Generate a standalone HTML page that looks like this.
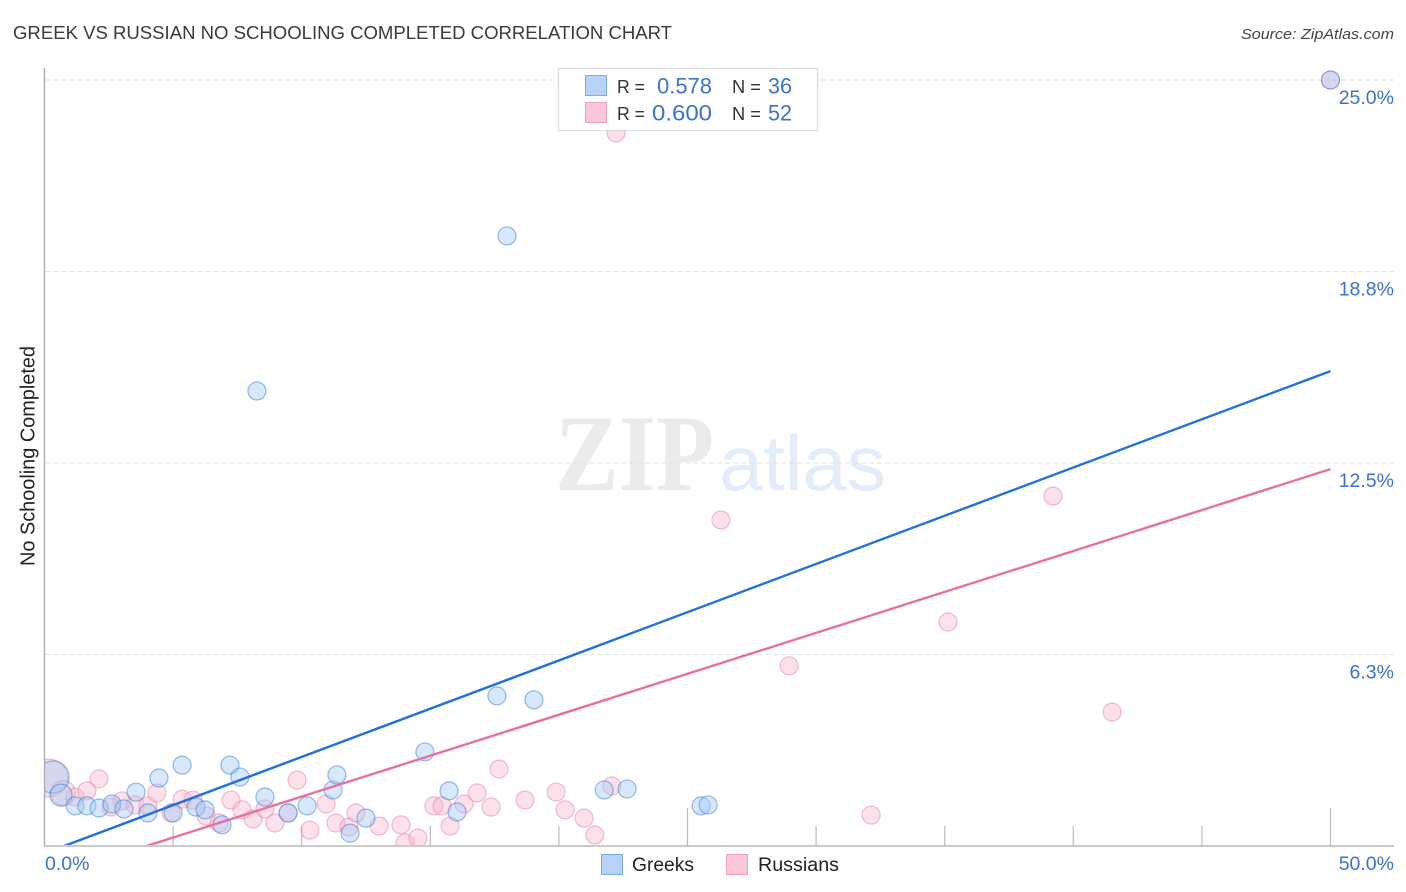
<!DOCTYPE html>
<html>
<head>
<meta charset="utf-8">
<title>Greek vs Russian No Schooling Completed Correlation Chart</title>
<style>
html,body{margin:0;padding:0;background:#fff;}
svg{display:block;}
text{font-family:"Liberation Sans",sans-serif;}
</style>
</head>
<body>
<svg id="chart" xmlns="http://www.w3.org/2000/svg" width="1406" height="892" viewBox="0 0 1406 892">
  <defs>
    <clipPath id="plot-clip"><rect x="45" y="60" width="1349" height="785"/></clipPath>
  </defs>
  <rect x="0" y="0" width="1406" height="892" fill="#ffffff"/>
  <text x="13" y="39" font-size="18.5" fill="#3a3a3a" textLength="659" lengthAdjust="spacingAndGlyphs">GREEK VS RUSSIAN NO SCHOOLING COMPLETED CORRELATION CHART</text>
  <text x="1241" y="39" font-size="15" font-style="italic" fill="#444444" textLength="153" lengthAdjust="spacingAndGlyphs">Source: ZipAtlas.com</text>
  <text x="555" y="490" font-size="109" font-weight="bold" style="font-family:'Liberation Serif',serif" fill="#ebebeb" textLength="159" lengthAdjust="spacingAndGlyphs">ZIP</text>
  <text x="719" y="490" font-size="78" fill="#e3ecf9" textLength="167" lengthAdjust="spacingAndGlyphs">atlas</text>
  <g id="grid"></g>
  <g id="axes"></g>
  <g id="points-russians" clip-path="url(#plot-clip)"></g>
  <g id="points-greeks" clip-path="url(#plot-clip)"></g>
  <g id="trends" clip-path="url(#plot-clip)"></g>
  <text transform="translate(34.5,456) rotate(-90)" text-anchor="middle" font-size="20" fill="#222222" textLength="220" lengthAdjust="spacingAndGlyphs">No Schooling Completed</text>

  <g>
    <rect x="558.5" y="68.5" width="259" height="62" fill="#ffffff" stroke="#dddddd" stroke-width="1.3"/>
    <rect x="585.5" y="75.5" width="21" height="20" fill="#b6d3f7" stroke="#7eaae6" stroke-width="1"/>
    <rect x="585.5" y="102.5" width="21" height="20" fill="#fbc8d9" stroke="#f0a0bd" stroke-width="1"/>
    <text x="617" y="93" font-size="18.5" fill="#333333" textLength="28" lengthAdjust="spacingAndGlyphs">R =</text>
    <text x="657" y="93.5" font-size="22" fill="#3b72cf" textLength="55" lengthAdjust="spacingAndGlyphs">0.578</text>
    <text x="732" y="93" font-size="18.5" fill="#333333" textLength="29" lengthAdjust="spacingAndGlyphs">N =</text>
    <text x="768" y="93.5" font-size="22" fill="#3b72cf" textLength="24" lengthAdjust="spacingAndGlyphs">36</text>
    <text x="617" y="120" font-size="18.5" fill="#333333" textLength="28" lengthAdjust="spacingAndGlyphs">R =</text>
    <text x="652" y="120.5" font-size="22" fill="#3b72cf" textLength="60" lengthAdjust="spacingAndGlyphs">0.600</text>
    <text x="732" y="120" font-size="18.5" fill="#333333" textLength="29" lengthAdjust="spacingAndGlyphs">N =</text>
    <text x="768" y="120.5" font-size="22" fill="#3b72cf" textLength="24" lengthAdjust="spacingAndGlyphs">52</text>
  </g>

  <g>
    <rect x="601.5" y="854.5" width="21" height="20" fill="#b6d3f7" stroke="#7eaae6" stroke-width="1"/>
    <text x="632" y="871" font-size="19" fill="#222222" textLength="62" lengthAdjust="spacingAndGlyphs">Greeks</text>
    <rect x="726.5" y="854.5" width="21" height="20" fill="#fbc8d9" stroke="#f0a0bd" stroke-width="1"/>
    <text x="758" y="871" font-size="19" fill="#222222" textLength="81" lengthAdjust="spacingAndGlyphs">Russians</text>
  </g>
</svg>
<script>
const xTickValues = [5, 10, 15, 20, 25, 30, 35, 40, 45, 50];
const xTallTicks = [25, 50];
const xLabelValues = [0, 50];
const xLabelText = ['0.0%', '50.0%'];
const yTickValues = [6.25, 12.5, 18.75, 25];
const yLabelText = ['6.3%', '12.5%', '18.8%', '25.0%'];

const greekX = [0.33,0.64,1.19,1.65,2.12,2.62,3.09,3.56,4.02,4.45,5.35,5.00,5.89,6.24,6.90,7.21,7.60,8.57,9.47,10.21,11.22,11.37,11.88,12.50,14.79,15.73,16.04,21.76,22.65,17.98,8.26,17.59,19.03,25.53,25.80,50.0];
const greekY = [2.25,1.66,1.31,1.31,1.24,1.37,1.21,1.76,1.08,2.22,2.64,1.08,1.27,1.18,0.69,2.64,2.25,1.60,1.08,1.31,1.83,2.32,0.42,0.91,3.07,1.80,1.11,1.83,1.86,19.91,14.85,4.90,4.77,1.31,1.34,25.0];
const greekWeight = [3.2,1.5,1,1,1,1,1,1,1,1,1,1,1,1,1,1,1,1,1,1,1,1,1,1,1,1,1,1,1,1,1,1,1,1,1,1];

const russianX = [0.17,0.72,1.19,1.65,2.12,3.01,3.52,2.59,4.02,4.37,4.92,5.35,5.77,6.28,6.79,7.25,7.68,8.11,8.57,8.96,9.47,9.82,10.32,10.95,11.33,11.84,12.11,13.01,13.86,14.02,14.52,15.14,15.46,15.77,16.31,16.82,17.36,17.67,18.68,19.89,20.24,20.98,21.40,22.06,22.22,26.30,39.21,35.13,28.95,41.51,32.14,50.0];
const russianY = [2.22,1.73,1.60,1.80,2.19,1.47,1.34,1.27,1.31,1.73,1.08,1.53,1.50,0.98,0.75,1.50,1.18,0.88,1.21,0.75,1.08,2.15,0.52,1.37,0.75,0.62,1.08,0.65,0.69,0.10,0.26,1.31,1.31,0.65,1.37,1.73,1.27,2.51,1.50,1.76,1.18,0.91,0.36,1.96,23.27,10.64,11.42,7.31,5.88,4.37,1.01,25.0];
const russianWeight = [4.4,1.9,1,1,1,1,1,1,1,1,1,1,1,1,1,1,1,1,1,1,1,1,1,1,1,1,1,1,1,1,1,1,1,1,1,1,1,1,1,1,1,1,1,1,1,1,1,1,1,1,1,1];

const greekTrendX = [0, 50];
const greekTrendY = [-0.24, 15.5];
const russianTrendX = [0, 50];
const russianTrendY = [-1.06, 12.3];

const SVG_NS = 'http://www.w3.org/2000/svg';
function xScale(v) { return 44.5 + v * 25.72; }
function yScale(v) { return 846 - v * 30.64; }
function rScale(w) { return 9 * Math.sqrt(w); }
function make(parentId, tag, attrs) {
  const el = document.createElementNS(SVG_NS, tag);
  for (const k in attrs) el.setAttribute(k, attrs[k]);
  document.getElementById(parentId).appendChild(el);
  return el;
}

yTickValues.forEach(function (v, i) {
  const line = make('grid', 'line', { x1: 45, x2: 1394, y1: yScale(v), y2: yScale(v), stroke: '#e2e2e2', 'stroke-width': 1, 'stroke-dasharray': '5 3' });
  
  
  const label = make('axes', 'text', { x: 1394, y: yScale(v) + 24, 'text-anchor': 'end', 'font-size': 19.5, fill: '#3b72cf' });
  
  
  label.textContent = yLabelText[i];
});

const yAxis = make('axes', 'line', { x1: 44.5, x2: 44.5, y1: 68, y2: 846, stroke: '#aaaaaa', 'stroke-width': 1.3 });


const xAxis = make('axes', 'line', { x1: 44, x2: 1394, y1: 846, y2: 846, stroke: '#aaaaaa', 'stroke-width': 1.3 });



xTickValues.forEach(function (v) {
  const top = xTallTicks.indexOf(v) >= 0 ? 808 : 826;
  const tick = make('axes', 'line', { x1: xScale(v), x2: xScale(v), y1: top, y2: 846, stroke: '#bbbbbb', 'stroke-width': 1.2 });
  
  
});

xLabelValues.forEach(function (v, i) {
  const label = make('axes', 'text', { x: i === 0 ? 45 : 1394, y: 870, 'text-anchor': i === 0 ? 'start' : 'end', 'font-size': 19.5, fill: '#3b72cf' });
  
  
  label.textContent = xLabelText[i];
});

russianX.forEach(function (v, i) {
  const c = make('points-russians', 'circle', { cx: xScale(v), cy: yScale(russianY[i]), r: rScale(russianWeight[i]), fill: 'rgba(248,180,203,0.4)', stroke: 'rgba(232,120,160,0.48)', 'stroke-width': 1.2 });
  
  
});

greekX.forEach(function (v, i) {
  const c = make('points-greeks', 'circle', { cx: xScale(v), cy: yScale(greekY[i]), r: rScale(greekWeight[i]), fill: 'rgba(160,200,245,0.42)', stroke: 'rgba(50,120,215,0.5)', 'stroke-width': 1.2 });
  
  
});

const russianTrend = make('trends', 'line', { x1: xScale(russianTrendX[0]), y1: yScale(russianTrendY[0]), x2: xScale(russianTrendX[1]), y2: yScale(russianTrendY[1]), stroke: '#e8709f', 'stroke-width': 2.4 });


const greekTrend = make('trends', 'line', { x1: xScale(greekTrendX[0]), y1: yScale(greekTrendY[0]), x2: xScale(greekTrendX[1]), y2: yScale(greekTrendY[1]), stroke: '#2170dc', 'stroke-width': 2.4 });


</script>
</body>
</html>
